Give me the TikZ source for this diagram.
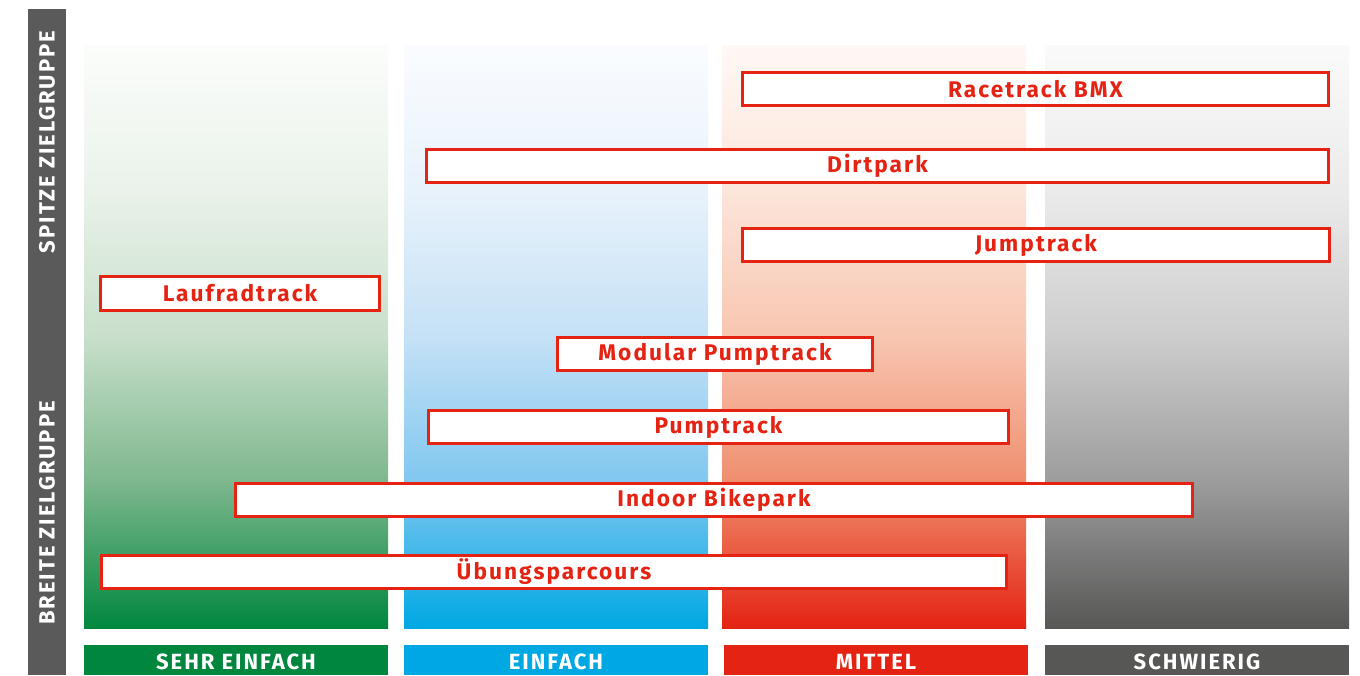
\documentclass[tikz,border=0pt]{standalone}
\usepackage{fontspec}
\setmainfont{Fira Sans}[LetterSpace=9]
\definecolor{cgreen}{HTML}{00873D}
\definecolor{cblue}{HTML}{00A8E3}
\definecolor{cred}{HTML}{E42313}
\definecolor{cgray}{HTML}{575756}
\definecolor{cbar}{HTML}{5A5A5A}
% green stops (top -> bottom)
\definecolor{ga}{HTML}{FBFDFB}\definecolor{gb}{HTML}{EAF2EA}\definecolor{gc}{HTML}{C8DFCB}\definecolor{gd}{HTML}{7DB78D}
% blue stops
\definecolor{ba}{HTML}{FAFCFF}\definecolor{bb}{HTML}{E8F2FB}\definecolor{bc}{HTML}{C5E1F6}\definecolor{bd}{HTML}{80C7F0}
% red stops
\definecolor{ra}{HTML}{FFF8F5}\definecolor{rb}{HTML}{FCE5DA}\definecolor{rc}{HTML}{F8C6B1}\definecolor{rd}{HTML}{EF8E6E}
% gray stops
\definecolor{ya}{HTML}{FAFAFA}\definecolor{yb}{HTML}{EBEBEB}\definecolor{yc}{HTML}{CDCDCD}\definecolor{yd}{HTML}{9C9C9C}
\pgfdeclareverticalshading{shgreen}{100bp}{color(0bp)=(cgreen); color(25bp)=(cgreen); color(37.5bp)=(gd); color(50bp)=(gc); color(62.5bp)=(gb); color(75bp)=(ga); color(100bp)=(ga)}
\pgfdeclareverticalshading{shblue}{100bp}{color(0bp)=(cblue); color(25bp)=(cblue); color(37.5bp)=(bd); color(50bp)=(bc); color(62.5bp)=(bb); color(75bp)=(ba); color(100bp)=(ba)}
\pgfdeclareverticalshading{shred}{100bp}{color(0bp)=(cred); color(25bp)=(cred); color(37.5bp)=(rd); color(50bp)=(rc); color(62.5bp)=(rb); color(75bp)=(ra); color(100bp)=(ra)}
\pgfdeclareverticalshading{shgray}{100bp}{color(0bp)=(cgray); color(25bp)=(cgray); color(37.5bp)=(yd); color(50bp)=(yc); color(62.5bp)=(yb); color(75bp)=(ya); color(100bp)=(ya)}
\tikzset{
  lbl/.style={text=white, font=\bfseries\fontsize{16.5}{18}\selectfont},
  levelbox/.style={lbl, inner sep=0pt, anchor=center},
  track/.style={draw=cred, line width=2.25pt, fill=white, text=cred, inner sep=0pt,
     font=\bfseries\fontsize{17}{19}\selectfont},
}
\newcommand\trackbox[6]{%
  \node[track, minimum width={(#4-#2-3)*0.75pt}, minimum height={(#5-#3-3)*0.75pt}]
    (#1) at ({(#2+#4)/2},{(#3+#5)/2}) {#6};}
\begin{document}
\begin{tikzpicture}[x=0.75pt, y=-0.75pt]
\useasboundingbox (0,0) rectangle (1360,675);
\fill[white] (0,0) rectangle (1360,675);
% left bar
\fill[cbar] (28,9) rectangle (66,675);
\node[lbl, rotate=90] (spitze) at (47,142) {SPITZE ZIELGRUPPE};
\node[lbl, rotate=90] (breite) at (47,513) {BREITE ZIELGRUPPE};
% columns
\shade[shading=shgreen] (84,45) rectangle (388,628);
\shade[shading=shblue] (404,45) rectangle (708,628);
\shade[shading=shred] (722,45) rectangle (1026,628);
\shade[shading=shgray] (1045,45) rectangle (1349,628);
% level labels
\fill[cgreen] (84,645) rectangle (388,675);
\fill[cblue] (404,645) rectangle (708,675);
\fill[cred] (724,645) rectangle (1028,675);
\fill[cgray] (1045,645) rectangle (1349,675);
\node[levelbox] (l1) at (236,662) {SEHR EINFACH};
\node[levelbox] (l2) at (556,662) {EINFACH};
\node[levelbox] (l3) at (876,662) {MITTEL};
\node[levelbox] (l4) at (1197,662) {SCHWIERIG};
% tracks
\trackbox{rbmx}{741}{71}{1330}{107}{Racetrack BMX}
\trackbox{dirt}{425}{148}{1330}{184}{Dirtpark}
\trackbox{jump}{741}{227}{1331}{263}{Jumptrack}
\trackbox{lauf}{99}{275}{381}{312}{Laufradtrack}
\trackbox{modp}{556}{336}{874}{372}{Modular Pumptrack}
\trackbox{pump}{427}{409}{1010}{445}{Pumptrack}
\trackbox{indoor}{234}{482}{1194}{518}{Indoor Bikepark}
\trackbox{ueb}{100}{554}{1008}{590}{Übungsparcours}
\end{tikzpicture}
\end{document}
